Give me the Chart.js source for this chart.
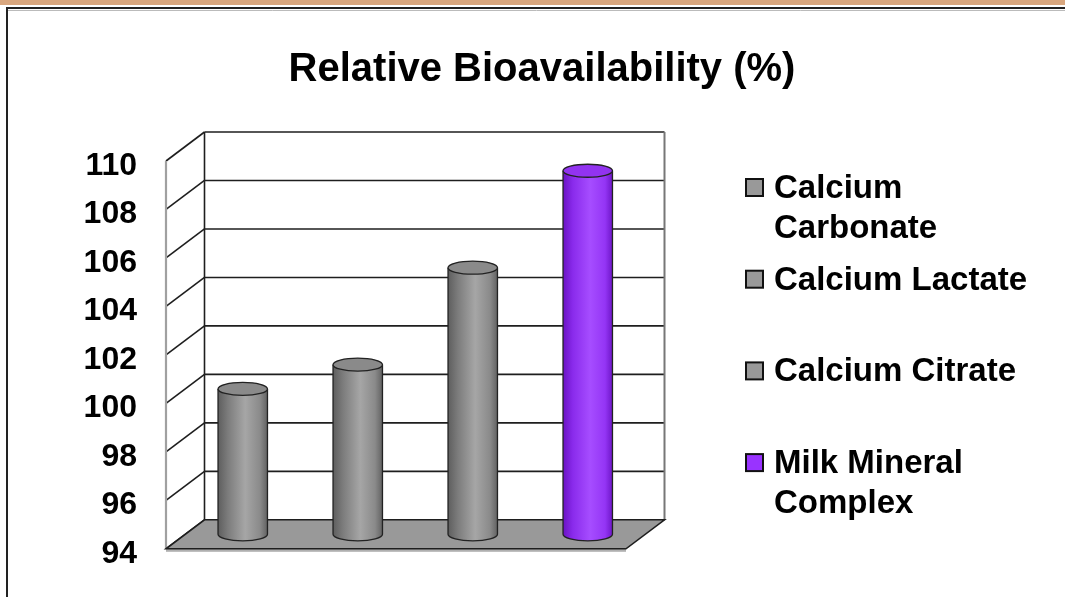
<!DOCTYPE html>
<html><head><meta charset="utf-8">
<script src="https://cdn.jsdelivr.net/npm/chart.js@4.4.1/dist/chart.umd.min.js"></script>
<style>html,body{margin:0;padding:0;background:#fff;} canvas{display:block;}</style>
</head><body>
<canvas id="c" width="1065" height="597"></canvas>
<script>
// ---- data ----
const categories = ["Calcium Carbonate", "Calcium Lactate", "Calcium Citrate", "Milk Mineral Complex"];
const values = [100, 101, 105, 109];
const yTicks = [94, 96, 98, 100, 102, 104, 106, 108, 110];
const chartTitle = "Relative Bioavailability (%)";

// ---- styles ----
const FONT = '"Liberation Sans", Arial, Helvetica, sans-serif';
const DX = 38.5, DY = -29;           // depth offset of back wall
const barStyles = [
  { body: ['#5e5e5e', '#7c7c7c', '#a6a6a6', '#8a8a8a', '#626262'], top: '#8a8a8a', key: '#999999' },
  { body: ['#5e5e5e', '#7c7c7c', '#a6a6a6', '#8a8a8a', '#626262'], top: '#8a8a8a', key: '#999999' },
  { body: ['#5e5e5e', '#7c7c7c', '#a6a6a6', '#8a8a8a', '#626262'], top: '#8a8a8a', key: '#999999' },
  { body: ['#6a12c4', '#8a2bec', '#a64dff', '#9435f5', '#6e16c8'], top: '#9233f0', key: '#9933ff' }
];

function line(ctx, x1, y1, x2, y2) { ctx.beginPath(); ctx.moveTo(x1, y1); ctx.lineTo(x2, y2); ctx.stroke(); }

function wrap(ctx, text, maxW) {
  const words = text.split(' '); const lines = []; let cur = '';
  words.forEach(w => {
    const t = cur ? cur + ' ' + w : w;
    if (ctx.measureText(t).width > maxW && cur) { lines.push(cur); cur = w; } else cur = t;
  });
  if (cur) lines.push(cur);
  return lines;
}

const scene = {
  id: 'scene',
  beforeDraw(chart) {
    const ctx = chart.ctx, W = chart.width, H = chart.height;
    ctx.save();
    ctx.fillStyle = '#fff'; ctx.fillRect(0, 0, W, H);
    ctx.fillStyle = '#d9a77f'; ctx.fillRect(0, 0, W, 5);
    ctx.strokeStyle = '#222'; ctx.lineWidth = 2;
    ctx.beginPath(); ctx.moveTo(7, H); ctx.lineTo(7, 8); ctx.lineTo(W, 8); ctx.stroke();
    ctx.strokeStyle = '#bbb'; ctx.lineWidth = 1;
    line(ctx, 8, 10.5, W, 10.5);
    // title
    ctx.fillStyle = '#000'; ctx.font = 'bold 40px ' + FONT;
    ctx.textAlign = 'center'; ctx.textBaseline = 'alphabetic';
    ctx.fillText(chartTitle, 542, 81);
    ctx.restore();
  },
  beforeDatasetsDraw(chart) {
    const ctx = chart.ctx, ys = chart.scales.y, a = chart.chartArea;
    const L = a.left, R = a.right;
    const T = ys.getPixelForValue(yTicks[yTicks.length - 1]), B = ys.getPixelForValue(yTicks[0]);
    ctx.save();
    // back wall grid lines
    ctx.strokeStyle = '#1e1e1e'; ctx.lineWidth = 1.6;
    yTicks.forEach(v => { const yy = ys.getPixelForValue(v) + DY; line(ctx, L + DX, yy, R + DX, yy); });
    // left wall grid lines
    yTicks.forEach(v => { const yy = ys.getPixelForValue(v); line(ctx, L, yy, L + DX, yy + DY); });
    // back wall left edge
    line(ctx, L + DX, T + DY, L + DX, B + DY);
    // back wall right edge
    ctx.strokeStyle = '#777'; ctx.lineWidth = 2;
    line(ctx, R + DX, T + DY, R + DX, B + DY);
    // left wall front edge
    ctx.strokeStyle = '#a0a0a0'; ctx.lineWidth = 2.2;
    line(ctx, L, T, L, B);
    // floor
    ctx.fillStyle = '#b0b0b0';
    ctx.fillRect(L, B, R - L, 3);
    ctx.beginPath();
    ctx.moveTo(L, B); ctx.lineTo(R, B); ctx.lineTo(R + DX, B + DY); ctx.lineTo(L + DX, B + DY); ctx.closePath();
    ctx.fillStyle = '#999999'; ctx.fill();
    ctx.strokeStyle = '#1e1e1e'; ctx.lineWidth = 1.6; ctx.stroke();
    ctx.restore();
  },
  afterDatasetsDraw(chart) {
    const ctx = chart.ctx, ys = chart.scales.y;
    const meta = chart.getDatasetMeta(0);
    const floorPx = ys.getPixelForValue(ys.min);
    ctx.save();
    meta.data.forEach((bar, i) => {
      const p = bar.getProps(['x', 'y', 'width'], true);
      const st = barStyles[i];
      const cx = p.x + DX / 2, yt = p.y + DY / 2, yb = floorPx + DY / 2;
      const rx = p.width / 2, ry = 6.5;
      const g = ctx.createLinearGradient(cx - rx, 0, cx + rx, 0);
      g.addColorStop(0, st.body[0]); g.addColorStop(0.2, st.body[1]);
      g.addColorStop(0.55, st.body[2]); g.addColorStop(0.85, st.body[3]); g.addColorStop(1, st.body[4]);
      ctx.beginPath();
      ctx.moveTo(cx - rx, yt);
      ctx.lineTo(cx - rx, yb);
      ctx.ellipse(cx, yb, rx, ry, 0, Math.PI, 0, true);
      ctx.lineTo(cx + rx, yt);
      ctx.ellipse(cx, yt, rx, ry, 0, 0, Math.PI, true);
      ctx.closePath();
      ctx.fillStyle = g; ctx.fill();
      ctx.strokeStyle = '#222'; ctx.lineWidth = 1.3;
      ctx.beginPath();
      ctx.moveTo(cx - rx, yt); ctx.lineTo(cx - rx, yb);
      ctx.ellipse(cx, yb, rx, ry, 0, Math.PI, 0, true);
      ctx.lineTo(cx + rx, yt);
      ctx.stroke();
      ctx.beginPath();
      ctx.ellipse(cx, yt, rx, ry, 0, 0, Math.PI * 2);
      ctx.fillStyle = st.top; ctx.fill(); ctx.stroke();
    });
    ctx.restore();
  },
  afterDraw(chart) {
    const ctx = chart.ctx;
    ctx.save();
    ctx.font = 'bold 33px ' + FONT;
    ctx.textAlign = 'left'; ctx.textBaseline = 'alphabetic';
    const x0 = 746, tx = 774, y0 = 198, step = 91.7, lh = 39.5, box = 17;
    categories.forEach((c, i) => {
      const by = y0 + i * step;
      ctx.fillStyle = barStyles[i].key;
      ctx.fillRect(x0, by - 19, box, box);
      ctx.strokeStyle = '#111'; ctx.lineWidth = 2;
      ctx.strokeRect(x0, by - 19, box, box);
      ctx.fillStyle = '#000';
      wrap(ctx, c, 280).forEach((ln, k) => ctx.fillText(ln, tx, by + k * lh));
    });
    ctx.restore();
  }
};

new Chart(document.getElementById('c'), {
  type: 'bar',
  data: {
    labels: categories,
    datasets: [{ data: values, backgroundColor: 'rgba(0,0,0,0)', borderWidth: 0, barPercentage: 0.43, categoryPercentage: 1 }]
  },
  options: {
    responsive: false, animation: false, devicePixelRatio: 1,
    layout: { padding: { left: 0, top: 161, right: 439, bottom: 46 } },
    plugins: { legend: { display: false }, title: { display: false }, tooltip: { enabled: false } },
    scales: {
      x: { display: false },
      y: {
        min: yTicks[0], max: yTicks[yTicks.length - 1],
        afterFit(s) { s.width = 166; },
        afterBuildTicks(s) { s.ticks = yTicks.map(v => ({ value: v })); },
        grid: { display: false, drawTicks: false }, border: { display: false },
        ticks: { padding: 29, labelOffset: 5, color: '#000', font: { family: FONT, size: 32, weight: 'bold' } }
      }
    }
  },
  plugins: [scene]
});
</script>
</body></html>
